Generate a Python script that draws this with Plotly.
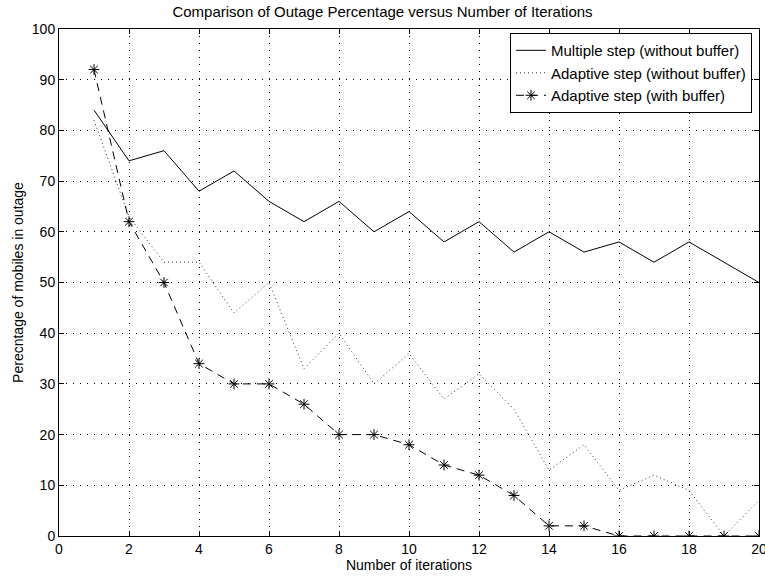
import plotly.graph_objects as go

iterations = list(range(1, 21))
multiple_no_buffer = [84, 74, 76, 68, 72, 66, 62, 66, 60, 64, 58, 62, 56, 60, 56, 58, 54, 58, 54, 50]
adaptive_no_buffer = [82, 63, 54, 54, 44, 50, 33, 40, 30, 36, 27, 32, 25, 13, 18, 9, 12, 9, 0, 7]
adaptive_buffer = [92, 62, 50, 34, 30, 30, 26, 20, 20, 18, 14, 12, 8, 2, 2, 0, 0, 0, 0, 0]

x_ticks = list(range(0, 21, 2))
y_ticks = list(range(0, 101, 10))

FONT = "Liberation Sans, Arial, sans-serif"

fig = go.Figure()
fig.add_trace(go.Scatter(x=iterations, y=multiple_no_buffer, mode="lines",
                         name="Multiple step (without buffer)",
                         line=dict(color="black", width=1)))
fig.add_trace(go.Scatter(x=iterations, y=adaptive_no_buffer, mode="lines",
                         name="Adaptive step (without buffer)",
                         line=dict(color="#333333", width=1, dash="1px,3px")))
fig.add_trace(go.Scatter(x=iterations, y=adaptive_buffer, mode="lines+markers",
                         name="Adaptive step (with buffer)",
                         line=dict(color="black", width=1, dash="8px,6px"),
                         marker=dict(symbol="asterisk-open", size=9,
                                     line=dict(color="black", width=1))))

axis_common = dict(showline=True, mirror="ticks", linecolor="black", linewidth=1,
                   ticks="inside", ticklen=5, tickcolor="black",
                   showgrid=True, gridcolor="black", gridwidth=1, griddash="1px,6px",
                   zeroline=False, ticklabeloverflow="allow", automargin=False,
                   tickfont=dict(family=FONT, size=14, color="black"))

fig.update_xaxes(range=[0, 20], tickvals=x_ticks, ticktext=[str(v) for v in x_ticks],
                 title=dict(text="Number of iterations", font=dict(family=FONT, size=14, color="black"),
                            standoff=2),
                 **axis_common)
fig.update_yaxes(range=[0, 100], tickvals=y_ticks, ticktext=[str(v) for v in y_ticks],
                 title=dict(text="Perecntage of mobiles in outage", font=dict(family=FONT, size=14, color="black"),
                            standoff=4),
                 **axis_common)

fig.update_layout(
    width=765, height=576,
    margin=dict(l=59, r=6, t=29, b=40, autoexpand=False),
    paper_bgcolor="white", plot_bgcolor="white",
    title=dict(text="Comparison of Outage Percentage versus Number of Iterations",
               x=0.5, xanchor="center", y=0.988, yanchor="top",
               font=dict(family=FONT, size=15, color="black")),
    legend=dict(x=0.99, y=0.992, xanchor="right", yanchor="top",
                bgcolor="white", bordercolor="black", borderwidth=1,
                font=dict(family=FONT, size=15, color="black"),
                tracegroupgap=0, itemwidth=30),
    showlegend=True,
)

fig.write_html("out.html")
